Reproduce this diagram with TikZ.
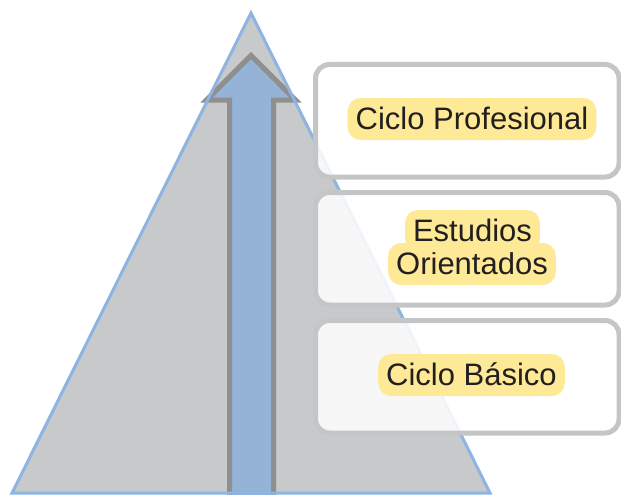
\documentclass[tikz,border=0pt]{standalone}
\usepackage{fontspec}
\setmainfont{Liberation Sans}
\definecolor{trifill}{HTML}{C8C9CB}
\definecolor{triline}{HTML}{8DB4E2}
\definecolor{arrfill}{HTML}{94B3D6}
\definecolor{arrline}{HTML}{8F8F90}
\definecolor{boxline}{HTML}{C4C5C6}
\definecolor{hlyellow}{HTML}{FDE996}
\definecolor{txt}{HTML}{231F20}
\tikzset{
  levelbox/.style={draw=boxline, line width=5pt, fill=white, fill opacity=0.86,
    rounded corners=14pt, inner sep=0pt},
  hl/.style={fill=hlyellow, rounded corners=13pt, inner xsep=8pt, inner ysep=0pt,
    text height=31pt, text depth=11pt, text=txt,
    font=\fontsize{31pt}{33pt}\selectfont}
}
\begin{document}
\begin{tikzpicture}[x=1pt,y=-1pt]
\useasboundingbox (0,0) rectangle (621,495);
\clip (0,0) rectangle (621,495);
% triangle
\coordinate (apex) at (251,13);
\coordinate (bl) at (12,493);
\coordinate (br) at (490,493);
\fill[trifill] (apex) -- (bl) -- (br) -- cycle;
% arrow
\coordinate (a1) at (229.5,500);
\coordinate (a2) at (229.5,100);
\coordinate (a3) at (206.5,100);
\coordinate (tip) at (251,55.5);
\coordinate (a5) at (295.5,100);
\coordinate (a6) at (273.5,100);
\coordinate (a7) at (273.5,500);
\draw[arrline, fill=arrfill, line width=5pt, line join=miter]
  (a1) -- (a2) -- (a3) -- (tip) -- (a5) -- (a6) -- (a7) -- cycle;
\draw[triline, line width=3pt, line join=miter] (apex) -- (bl) -- (br) -- cycle;
% boxes
\node[levelbox, minimum width=303.5pt, minimum height=112.5pt] (b1) at (467.25,120.75) {};
\node[levelbox, minimum width=303.5pt, minimum height=112.5pt] (b2) at (467.25,248.75) {};
\node[levelbox, minimum width=303.5pt, minimum height=112.5pt] (b3) at (467.25,376.75) {};
% labels
\node[hl, anchor=base] (t1) at (472,129) {Ciclo Profesional};
\node[hl, anchor=base] (t2b) at (472,274) {Orientados};
\node[hl, anchor=base] (t2a) at (472.5,241) {Estudios};
\node[hl, anchor=base] (t3) at (471.5,385) {Ciclo Básico};
\end{tikzpicture}
\end{document}
